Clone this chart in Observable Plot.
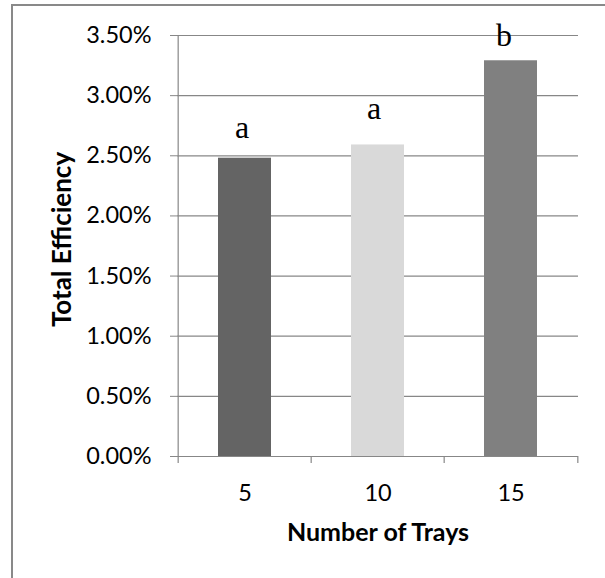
<!DOCTYPE html>
<html><head><meta charset="utf-8">
<script src="https://cdn.jsdelivr.net/npm/d3@7"></script>
<script src="https://cdn.jsdelivr.net/npm/@observablehq/plot@0.6"></script>
<style>
body{margin:0;background:#fff;overflow:hidden}
#wrap{position:relative;width:605px;height:578px;overflow:hidden}
#chart{position:absolute;left:0;top:0}
#frame{position:absolute;left:11px;top:4px;width:700px;height:700px;border:2px solid #898989;pointer-events:none}
</style></head><body>
<div id="wrap"><div id="chart"></div><div id="frame"></div></div>
<script>
const trays = ["5", "10", "15"];
const efficiency = [0.0248, 0.0259, 0.0329];
const letters = ["a", "a", "b"];
const barColors = ["#646464", "#d9d9d9", "#808080"];
const yTicks = [0, 0.005, 0.01, 0.015, 0.02, 0.025, 0.03, 0.035];
const xTitle = "Number of Trays";
const yTitle = "Total Efficiency";

const data = trays.map((t, i) => ({tray: t, eff: efficiency[i], letter: letters[i], color: barColors[i]}));

const W = 605, H = 578, mL = 177, mR = 27, mT = 35, mB = 122;
const step = (W - mL - mR) / trays.length;
const gridColor = "#878787";
const labelOffsets = [[-3, -20], [-4, -26], [-7, -15]];

const chart = Plot.plot({
  width: W, height: H,
  marginLeft: mL, marginRight: mR, marginTop: mT, marginBottom: mB,
  style: {fontFamily: "Lato", fontSize: "23.5px", color: "black", background: "transparent"},
  x: {domain: trays, paddingInner: 0.6, paddingOuter: 0.3},
  y: {domain: [0, 0.035]},
  color: {type: "identity"},
  marks: [
    Plot.ruleY(yTicks, {stroke: gridColor, strokeWidth: 1.2}),
    Plot.barY(data, {x: "tray", y: "eff", fill: "color"}),
    Plot.ruleX([trays[0]], {y1: 0, y2: 0.035, dx: -step / 2, stroke: gridColor, strokeWidth: 1.2}),
    Plot.ruleX(trays, {y1: 0, y2: 0, insetBottom: -7, dx: -step / 2, stroke: gridColor, strokeWidth: 1.2}),
    Plot.ruleX([trays[trays.length - 1]], {y1: 0, y2: 0, insetBottom: -7, dx: step / 2, stroke: gridColor, strokeWidth: 1.2}),
    Plot.axisY(yTicks, {tickFormat: d3.format(".2%"), tickSize: 7, tickPadding: 19, stroke: gridColor, fill: "black", label: null}),
    Plot.axisX({tickSize: 0, tickPadding: 28, fill: "black", label: null}),
    ...data.map((d, i) => Plot.text([d], {x: "tray", y: "eff", text: "letter", lineAnchor: "bottom",
      dx: labelOffsets[i][0], dy: labelOffsets[i][1], fontFamily: "Liberation Serif", fontSize: 32, fill: "black"})),
    Plot.text([yTitle], {frameAnchor: "left", textAnchor: "middle", rotate: -90, dx: -114.5, dy: -6.5, fontWeight: "bold", fontSize: 26, fill: "black"}),
    Plot.text([xTitle], {frameAnchor: "bottom", textAnchor: "middle", lineAnchor: "bottom", dy: 84, fontWeight: "bold", fontSize: 25, fill: "black"})
  ]
});
document.getElementById("chart").appendChild(chart);
</script>
</body></html>
